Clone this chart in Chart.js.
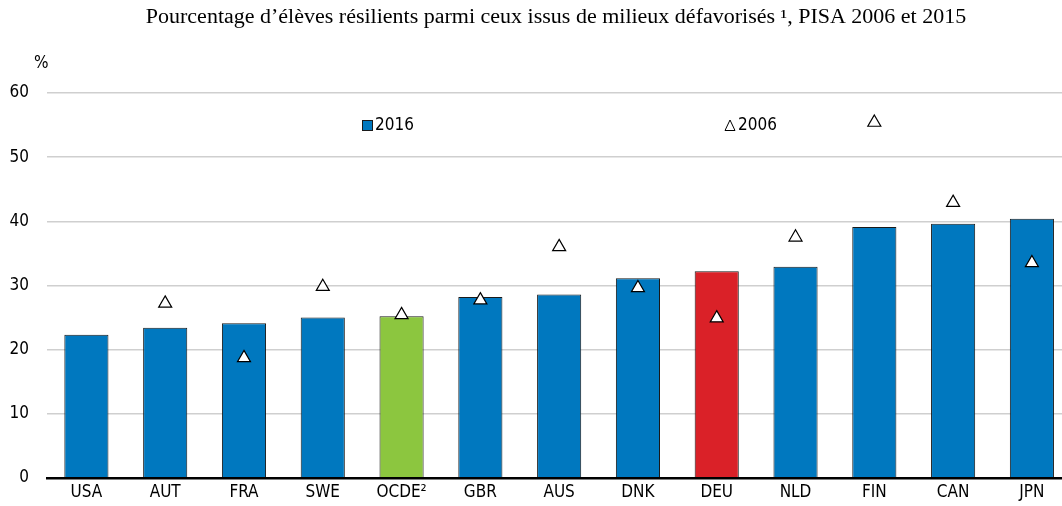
<!DOCTYPE html>
<html>
<head>
<meta charset="utf-8">
<script src="https://cdn.jsdelivr.net/npm/chart.js@4"></script>
<style>
  html, body { margin: 0; padding: 0; background: #fff; overflow: hidden; }
  #wrap { position: relative; width: 1080px; height: 506px; }
</style>
</head>
<body>
<div id="wrap"><canvas id="resilienceChart"></canvas></div>
<script>
// DATA
const countries = ['USA', 'AUT', 'FRA', 'SWE', 'OCDE²', 'GBR', 'AUS', 'DNK', 'DEU', 'NLD', 'FIN', 'CAN', 'JPN'];
const share2016 = [22.3, 23.4, 24.1, 25.0, 25.2, 28.2, 28.6, 31.1, 32.2, 32.9, 39.1, 39.6, 40.4];
const share2006 = [null, 27.2, 18.7, 29.8, 25.4, 27.7, 36.0, 29.6, 24.9, 37.5, 55.4, 42.9, 33.5];
const yTicks = [0, 10, 20, 30, 40, 50, 60];
const titleText = 'Pourcentage d’élèves résilients parmi ceux issus de milieux défavorisés ¹, PISA 2006 et 2015';

const BLUE = '#0078bf';
const GREEN = '#8cc63f';
const RED = '#da2128';
const TICK_FONT = { family: '"Liberation Sans Narrow", "DejaVu Sans Condensed", "Liberation Sans", sans-serif', size: 17 };

const barColors = countries.map(c => c === 'OCDE²' ? GREEN : (c === 'DEU' ? RED : BLUE));

// title, unit label and the in-plot legend
const overlay = {
    id: 'overlay',
    afterDraw(chart) {
        const ctx = chart.ctx;
        ctx.save();
        ctx.fillStyle = '#000';
        ctx.textBaseline = 'middle';

        // the title is set slightly wide
        ctx.save();
        ctx.font = '20px "Liberation Serif", "Times New Roman", serif';
        ctx.textAlign = 'center';
        ctx.translate(556, 18);
        ctx.scale(1.1, 1);
        ctx.fillText(titleText, 0, 0);
        ctx.restore();

        ctx.font = TICK_FONT.size + 'px ' + TICK_FONT.family;
        ctx.textAlign = 'left';
        ctx.fillText('%', 34, 64);

        // 2016 legend item
        ctx.fillStyle = BLUE;
        ctx.strokeStyle = '#1a1a1a';
        ctx.lineWidth = 1;
        ctx.fillRect(362.5, 120.5, 10, 10);
        ctx.strokeRect(362.5, 120.5, 10, 10);
        ctx.fillStyle = '#000';
        ctx.fillText('2016', 375, 126);

        // 2006 legend item
        ctx.beginPath();
        ctx.moveTo(730, 120);
        ctx.lineTo(735, 130.5);
        ctx.lineTo(725, 130.5);
        ctx.closePath();
        ctx.fillStyle = '#fff';
        ctx.fill();
        ctx.strokeStyle = '#000';
        ctx.stroke();
        ctx.fillStyle = '#000';
        ctx.fillText('2006', 738, 126);
        ctx.restore();
    }
};

const ctx = document.getElementById('resilienceChart').getContext('2d');
const resilienceChart = new Chart(ctx, {
    type: 'bar',
    data: {
        labels: countries,
        datasets: [{
            type: 'line',
            label: '2006',
            data: share2006,
            showLine: false,
            pointStyle: 'triangle',
            pointRadius: 7.5,
            pointBackgroundColor: '#fff',
            pointBorderColor: '#000',
            pointBorderWidth: 1.2,
            order: 0
        }, {
            label: '2016',
            data: share2016,
            backgroundColor: barColors,
            borderColor: '#1a1a1a',
            borderWidth: 1,
            categoryPercentage: 1,
            barPercentage: 0.56,
            order: 1
        }]
    },
    options: {
        responsive: true,
        maintainAspectRatio: false,
        animation: false,
        layout: { padding: { top: 93, right: 6, bottom: 0, left: 0 } },
        scales: {
            x: {
                grid: { display: false, drawTicks: false },
                border: { color: '#000', width: 2.5 },
                ticks: { color: '#000', font: TICK_FONT, padding: 5, maxRotation: 0, autoSkip: false },
                afterFit: axis => { axis.height = 26; }
            },
            y: {
                min: 0,
                max: 60,
                afterBuildTicks: axis => { axis.ticks = yTicks.map(v => ({ value: v })); },
                grid: { color: '#cfcfcf', lineWidth: 1.5, drawTicks: false },
                border: { display: false },
                ticks: { color: '#000', font: TICK_FONT, padding: 18 },
                afterFit: axis => { axis.width = 47; }
            }
        },
        plugins: {
            legend: { display: false },
            tooltip: { enabled: false },
            title: { display: false }
        }
    },
    plugins: [overlay]
});
</script>
</body>
</html>
